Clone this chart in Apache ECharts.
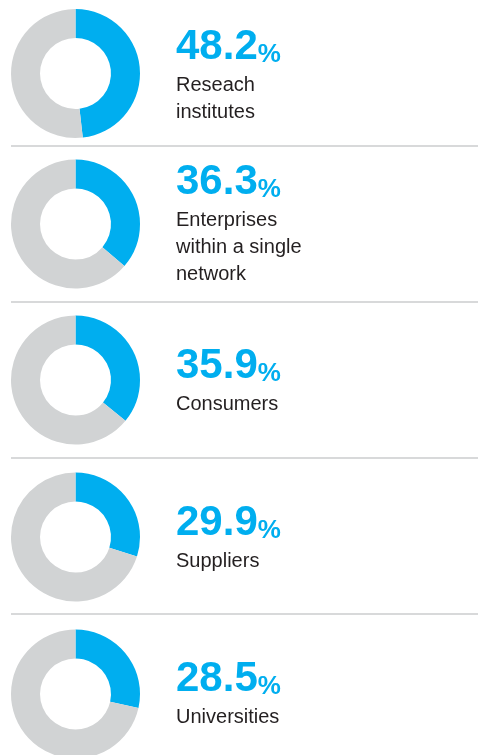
<!DOCTYPE html>
<html>
<head>
<meta charset="utf-8">
<script src="https://cdn.jsdelivr.net/npm/echarts@6/dist/echarts.min.js"></script>
<style>
  html, body { margin: 0; padding: 0; background: #fff; }
  #chart { width: 478px; height: 755px; }
</style>
</head>
<body>
<div id="chart"></div>
<script>
// values shown next to each donut (%)
const shares = [48.2, 36.3, 35.9, 29.9, 28.5]
// category labels, already broken into lines as printed
const labels = [
  ['Reseach', 'institutes'],
  ['Enterprises', 'within a single', 'network'],
  ['Consumers'],
  ['Suppliers'],
  ['Universities']
]

// layout (pixels)
const centersY = [73.5, 224, 380, 537, 694]
const valueBaseY = [62, 197, 381, 538, 694]
const dividersY = [146, 302, 458, 614]
const donutX = 75.5
const textX = 176

const BLUE = '#00aeef'
const GREY = '#d1d3d4'
const INK = '#231f20'

const chart = echarts.init(document.getElementById('chart'))

const series = shares.map((v, i) => ({
  type: 'pie',
  center: [donutX, centersY[i]],
  radius: [35.5, 64.5],
  startAngle: 90,
  clockwise: true,
  silent: true,
  label: { show: false },
  labelLine: { show: false },
  emphasis: { disabled: true },
  data: [
    { value: v, name: 'share', itemStyle: { color: BLUE } },
    { value: 100 - v, name: 'rest', itemStyle: { color: GREY } }
  ]
}))

const graphics = []

dividersY.forEach(y => {
  graphics.push({
    type: 'line',
    shape: { x1: 11, y1: y, x2: 478, y2: y },
    style: { stroke: '#d8d9da', lineWidth: 2 }
  })
})

shares.forEach((v, i) => {
  const base = valueBaseY[i]
  graphics.push({
    type: 'text',
    x: textX,
    y: base + 6,
    style: {
      text: '{v|' + v.toFixed(1) + '}{p|%}',
      verticalAlign: 'bottom',
      rich: {
        v: { fontFamily: 'Liberation Sans', fontWeight: 'bold', fontSize: 42, lineHeight: 42, fill: BLUE, color: BLUE, verticalAlign: 'bottom' },
        p: { fontFamily: 'Liberation Sans', fontWeight: 'bold', fontSize: 26, lineHeight: 31, fill: BLUE, color: BLUE, verticalAlign: 'bottom' }
      }
    }
  })
  graphics.push({
    type: 'text',
    x: textX,
    y: base + 30 - 7 - 13.5,
    style: {
      text: labels[i].join('\n'),
      fontFamily: 'Liberation Sans',
      fontSize: 20,
      lineHeight: 27,
      fill: INK,
      verticalAlign: 'top'
    }
  })
})

chart.setOption({
  animation: false,
  backgroundColor: '#fff',
  series: series,
  graphic: graphics
})

window.addEventListener('resize', () => chart.resize())
</script>
</body>
</html>
